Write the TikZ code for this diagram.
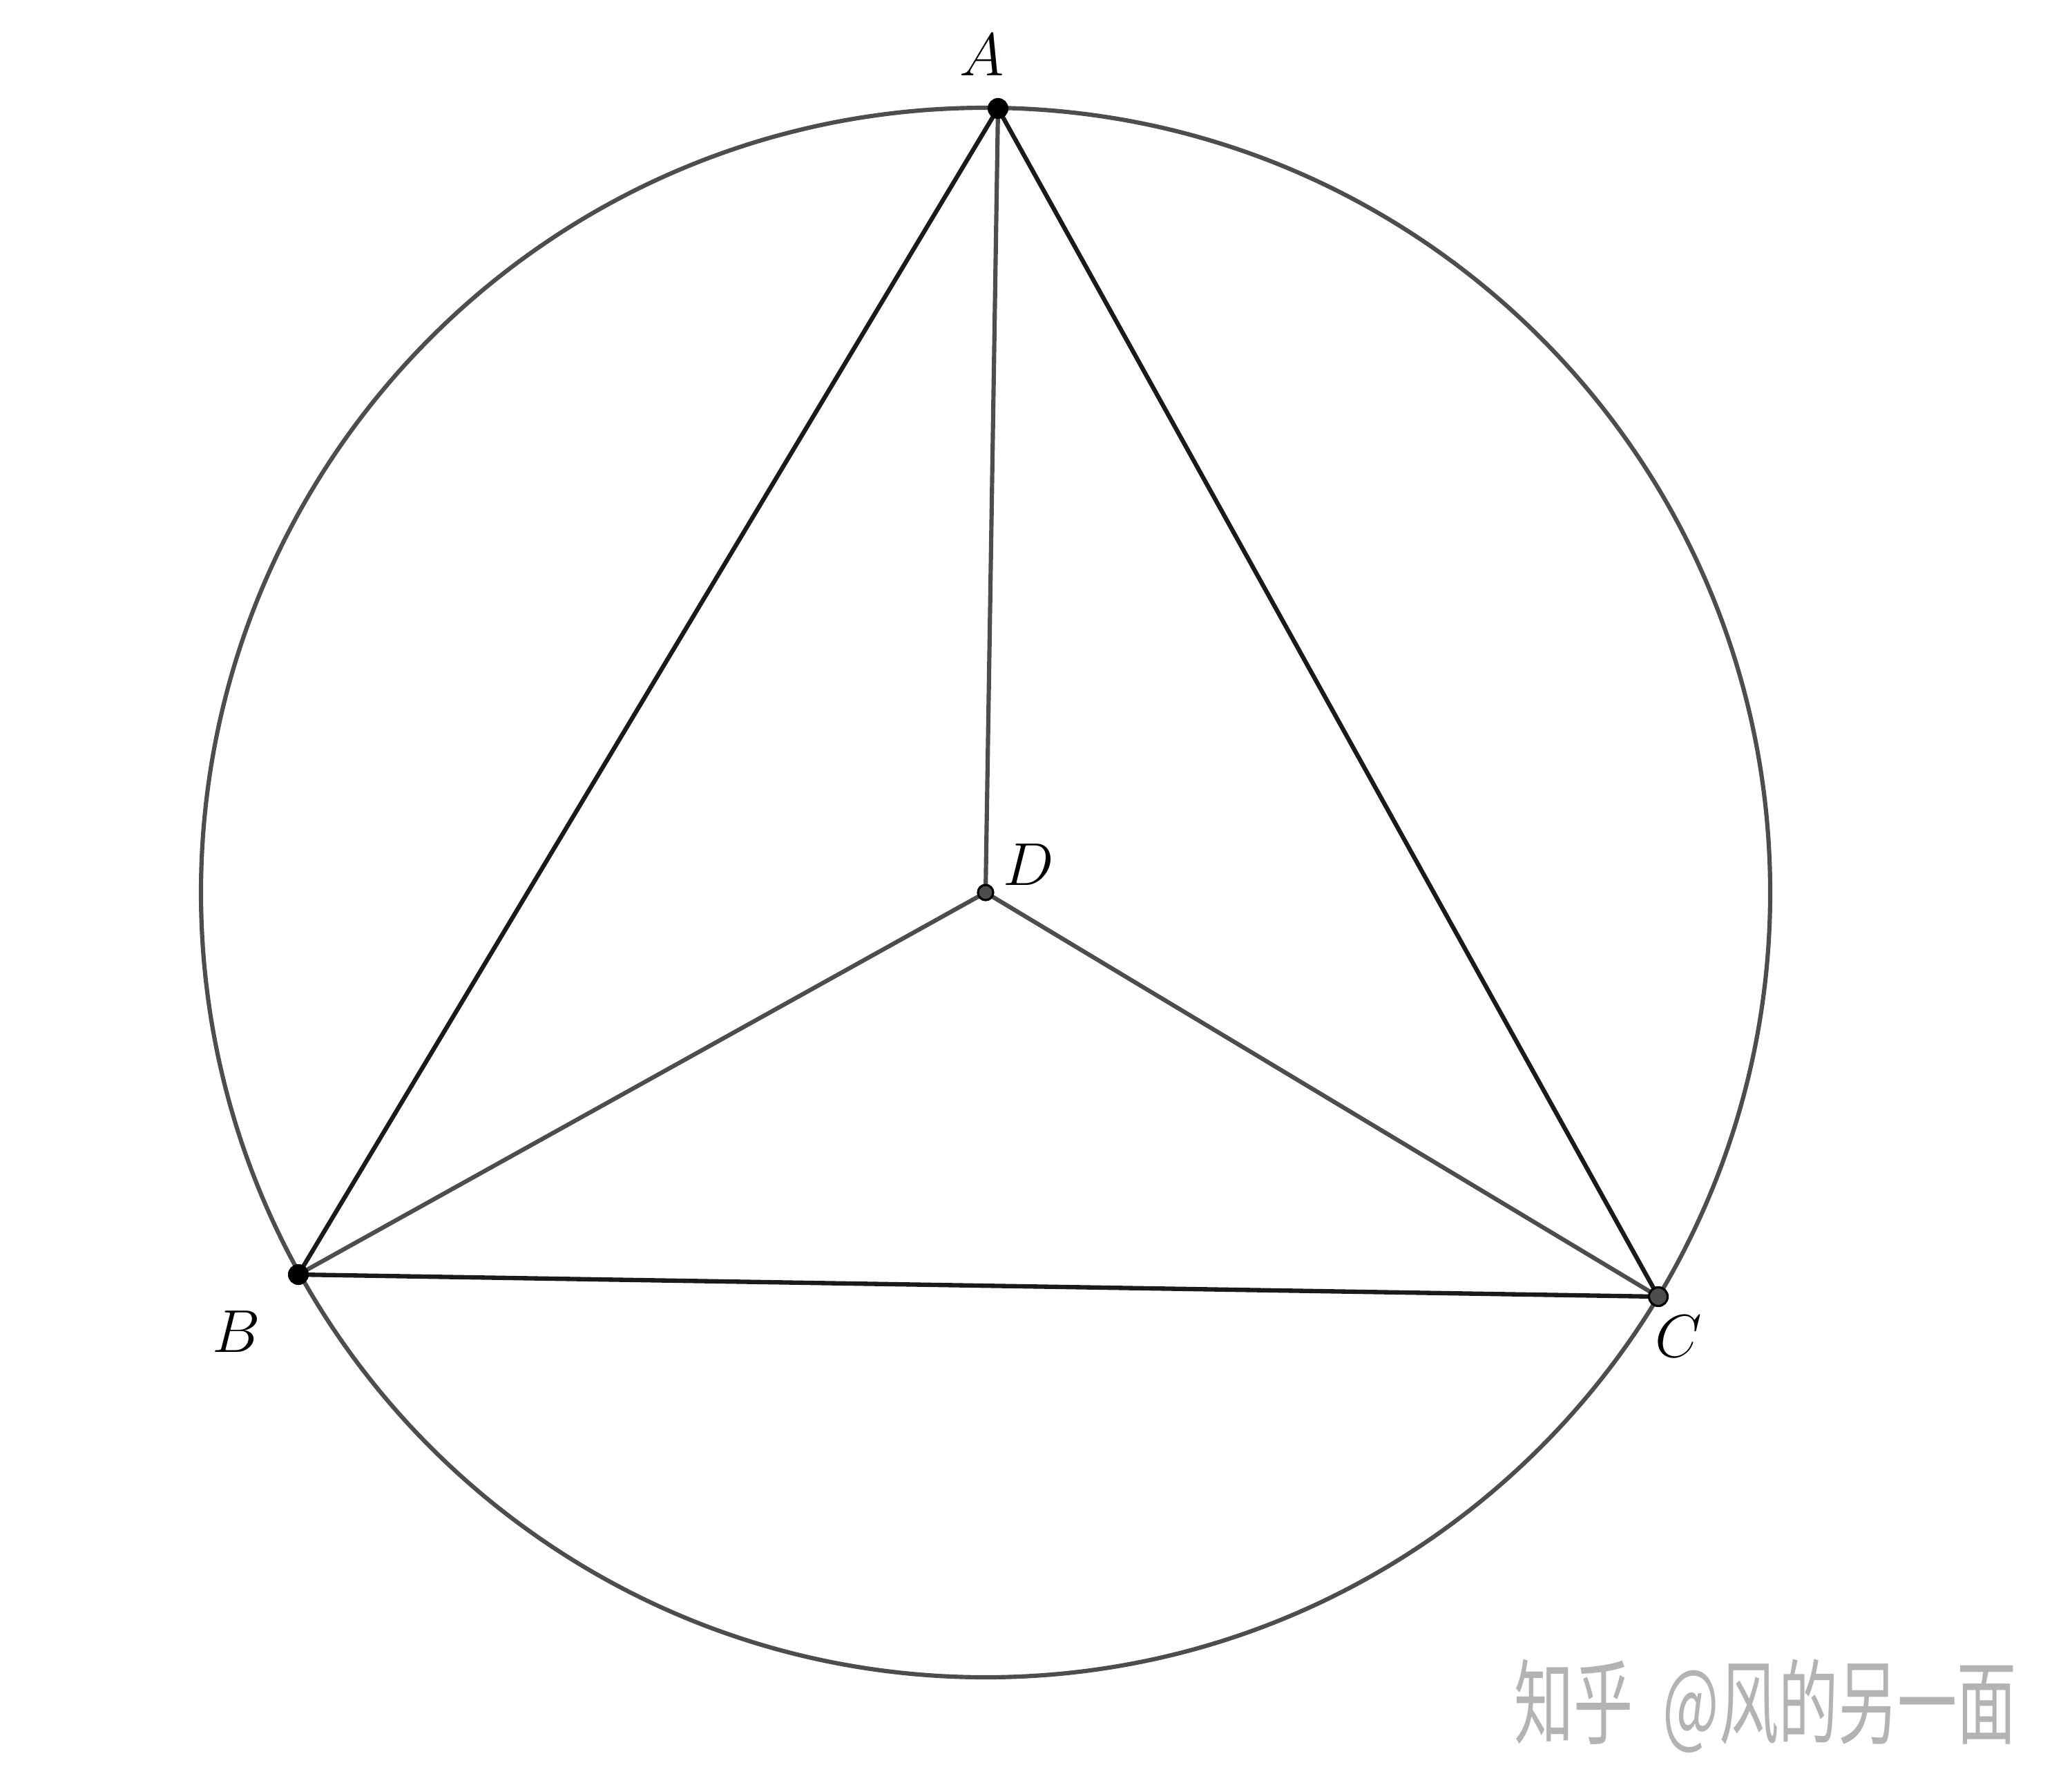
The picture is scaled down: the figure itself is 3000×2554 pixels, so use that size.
\documentclass[tikz,border=0pt]{standalone}
\usepackage{fontspec}
\newfontfamily\cjkfont{Noto Sans CJK SC}
\definecolor{circgray}{HTML}{4D4D4D}
\definecolor{tri}{HTML}{1A1A1A}
\definecolor{wm}{HTML}{B3B3B3}
\begin{document}
\begin{tikzpicture}[x=0.01cm,y=-0.01cm,
  circline/.style={draw=circgray,line width=1.75pt},
  triline/.style={draw=tri,line width=1.8pt},
  seg/.style={draw=circgray,line width=1.75pt},
  blackdot/.style={circle,fill=black,draw=black,line width=0.6pt,inner sep=0pt,minimum size=0.28cm},
  graydot/.style={circle,fill=circgray,draw=black,line width=0.9pt,inner sep=0pt,minimum size=0.27cm},
  smalldot/.style={circle,fill=circgray,draw=black,line width=0.9pt,inner sep=0pt,minimum size=0.22cm},
  lab/.style={inner sep=0pt,font=\fontsize{27}{32}\selectfont}]
\useasboundingbox (0,0) rectangle (3000,2554);
\coordinate (A) at (1445,157);
\coordinate (B) at (432,1845);
\coordinate (C) at (2401,1877);
\coordinate (D) at (1427,1292);
\draw[circline] (D) circle (0.01cm*1136);
\draw[seg] (A) -- (D);
\draw[seg] (B) -- (D);
\draw[seg] (C) -- (D);
\draw[triline] (A) -- (B) -- (C) -- cycle;
\node[blackdot] (dA) at (A) {};
\node[blackdot] (dB) at (B) {};
\node[graydot] (dC) at (C) {};
\node[smalldot] (dD) at (D) {};
\node[lab] (lA) at (1422,80) {$A$};
\node[lab] (lB) at (342,1928) {$B$};
\node[lab] (lC) at (2430,1935) {$C$};
\node[lab] (lD) at (1489,1252) {$D$};
\node[inner sep=0pt,text=wm] (wmk) at (2556,2470) {\scalebox{1}[1.55]{\cjkfont\fontsize{24.5}{30}\selectfont 知乎\hspace{0.5em}@风的另一面}};
\end{tikzpicture}
\end{document}
